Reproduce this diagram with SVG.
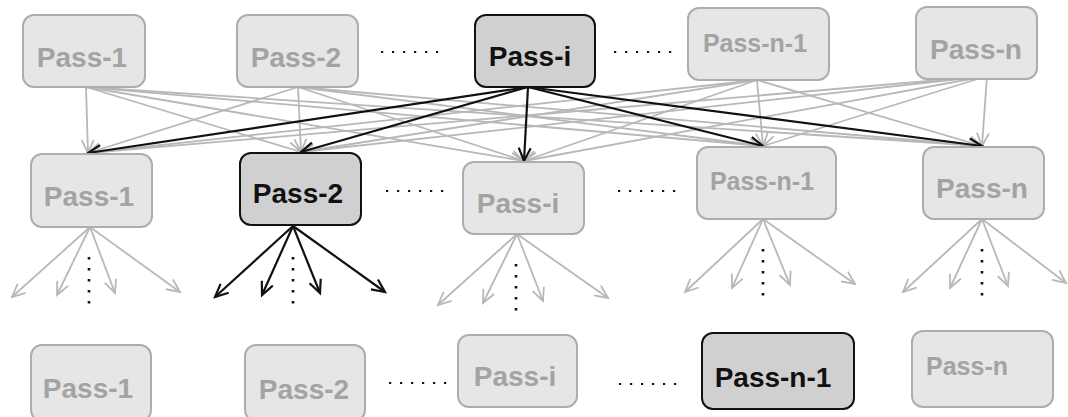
<svg xmlns="http://www.w3.org/2000/svg" width="1068" height="417" viewBox="0 0 1068 417">
  <style>
    .box-l { fill: #e6e6e6; stroke: #adadad; stroke-width: 2; }
    .box-d { fill: #d0d0d0; stroke: #111; stroke-width: 2; }
    .txt { font-family: "Liberation Sans", Arial, sans-serif; font-weight: bold; font-size: 28px; text-anchor: middle; }
    .txt-l { fill: #a3a3a3; }
    .txt-d { fill: #111; }
    .edge-g { stroke: #b8b8b8; stroke-width: 1.8; fill: none; marker-end: url(#arrow-g); }
    .edge-b { stroke: #111; stroke-width: 2.2; fill: none; marker-end: url(#arrow-b); }
    .hdots { stroke: #111; stroke-width: 2.2; stroke-dasharray: 2.2 8.8; fill: none; }
    .vdots { stroke: #111; stroke-width: 2.6; stroke-dasharray: 2.6 8.4; fill: none; }
  </style>
  <defs>
    <marker id="arrow-g" markerUnits="userSpaceOnUse" markerWidth="16" markerHeight="14" refX="13" refY="6" orient="auto" overflow="visible">
      <path d="M0,0 L13,6 L0,12" fill="none" stroke="#b8b8b8" stroke-width="1.8"/>
    </marker>
    <marker id="arrow-b" markerUnits="userSpaceOnUse" markerWidth="16" markerHeight="14" refX="13" refY="6" orient="auto" overflow="visible">
      <path d="M0,0 L13,6 L0,12" fill="none" stroke="#111" stroke-width="2.2"/>
    </marker>
  </defs>

  <g id="connectors">
    <!-- top row to middle row: faded links -->
    <g id="links-gray">
      <line class="edge-g" x1="86" y1="87" x2="88" y2="153"/>
      <line class="edge-g" x1="86" y1="87" x2="301" y2="152"/>
      <line class="edge-g" x1="86" y1="87" x2="524" y2="161"/>
      <line class="edge-g" x1="86" y1="87" x2="763" y2="146"/>
      <line class="edge-g" x1="86" y1="87" x2="982" y2="146"/>

      <line class="edge-g" x1="298" y1="87" x2="88" y2="153"/>
      <line class="edge-g" x1="298" y1="87" x2="301" y2="152"/>
      <line class="edge-g" x1="298" y1="87" x2="524" y2="161"/>
      <line class="edge-g" x1="298" y1="87" x2="763" y2="146"/>
      <line class="edge-g" x1="298" y1="87" x2="982" y2="146"/>

      <line class="edge-g" x1="757" y1="80" x2="88" y2="153"/>
      <line class="edge-g" x1="757" y1="80" x2="301" y2="152"/>
      <line class="edge-g" x1="757" y1="80" x2="524" y2="161"/>
      <line class="edge-g" x1="757" y1="80" x2="763" y2="146"/>
      <line class="edge-g" x1="757" y1="80" x2="982" y2="146"/>

      <line class="edge-g" x1="987" y1="76" x2="88" y2="153"/>
      <line class="edge-g" x1="987" y1="76" x2="301" y2="152"/>
      <line class="edge-g" x1="987" y1="76" x2="524" y2="161"/>
      <line class="edge-g" x1="987" y1="76" x2="763" y2="146"/>
      <line class="edge-g" x1="987" y1="76" x2="982" y2="146"/>
    </g>

    <!-- middle row fan-outs (faded) -->
    <g id="fans-gray">
      <line class="edge-g" x1="90" y1="227" x2="12" y2="297"/>
      <line class="edge-g" x1="90" y1="227" x2="57" y2="295"/>
      <line class="edge-g" x1="90" y1="227" x2="115" y2="293"/>
      <line class="edge-g" x1="90" y1="227" x2="180" y2="292"/>

      <line class="edge-g" x1="517" y1="234" x2="438" y2="305"/>
      <line class="edge-g" x1="517" y1="234" x2="483" y2="303"/>
      <line class="edge-g" x1="517" y1="234" x2="543" y2="301"/>
      <line class="edge-g" x1="517" y1="234" x2="608" y2="298"/>

      <line class="edge-g" x1="763" y1="219" x2="685" y2="292"/>
      <line class="edge-g" x1="763" y1="219" x2="732" y2="288"/>
      <line class="edge-g" x1="763" y1="219" x2="790" y2="285"/>
      <line class="edge-g" x1="763" y1="219" x2="855" y2="284"/>

      <line class="edge-g" x1="982" y1="219" x2="903" y2="292"/>
      <line class="edge-g" x1="982" y1="219" x2="950" y2="288"/>
      <line class="edge-g" x1="982" y1="219" x2="1008" y2="286"/>
      <line class="edge-g" x1="982" y1="219" x2="1066" y2="283"/>
    </g>

    <!-- active path: Pass-i to every middle node, Pass-2 fan-out -->
    <g id="links-active">
      <line class="edge-b" x1="528" y1="87" x2="88" y2="153"/>
      <line class="edge-b" x1="528" y1="87" x2="301" y2="152"/>
      <line class="edge-b" x1="528" y1="87" x2="524" y2="161"/>
      <line class="edge-b" x1="528" y1="87" x2="763" y2="146"/>
      <line class="edge-b" x1="528" y1="87" x2="982" y2="146"/>

      <line class="edge-b" x1="293" y1="226" x2="215" y2="297"/>
      <line class="edge-b" x1="293" y1="226" x2="262" y2="295"/>
      <line class="edge-b" x1="293" y1="226" x2="320" y2="293"/>
      <line class="edge-b" x1="293" y1="226" x2="385" y2="292"/>
    </g>

    <!-- ellipsis markers -->
    <g id="ellipses">
      <line class="vdots" x1="89" y1="257" x2="89" y2="305"/>
      <line class="vdots" x1="293" y1="257" x2="293" y2="305"/>
      <line class="vdots" x1="516" y1="264" x2="516" y2="312"/>
      <line class="vdots" x1="763" y1="249" x2="763" y2="297"/>
      <line class="vdots" x1="982" y1="249" x2="982" y2="297"/>

      <line class="hdots" x1="381" y1="52" x2="439" y2="52"/>
      <line class="hdots" x1="614" y1="52" x2="672" y2="52"/>
      <line class="hdots" x1="386" y1="191" x2="444" y2="191"/>
      <line class="hdots" x1="618" y1="191" x2="676" y2="191"/>
      <line class="hdots" x1="389" y1="383" x2="447" y2="383"/>
      <line class="hdots" x1="619" y1="384" x2="677" y2="384"/>
    </g>
  </g>

  <!-- top row -->
  <g id="top-pass-1"><rect class="box-l" x="23" y="15" width="122" height="72" rx="11"/><text class="txt txt-l" x="82" y="67">Pass-1</text></g>
  <g id="top-pass-2"><rect class="box-l" x="237" y="15" width="121" height="72" rx="11"/><text class="txt txt-l" x="296" y="67">Pass-2</text></g>
  <g id="top-pass-i"><rect class="box-d" x="475" y="15" width="120" height="72" rx="11"/><text class="txt txt-d" x="530" y="66">Pass-i</text></g>
  <g id="top-pass-n-1"><rect class="box-l" x="688" y="8" width="141" height="72" rx="11"/><text class="txt txt-l" x="755" y="52" style="font-size:25px">Pass-n-1</text></g>
  <g id="top-pass-n"><rect class="box-l" x="916" y="7" width="121" height="72" rx="11"/><text class="txt txt-l" x="976" y="59">Pass-n</text></g>

  <!-- middle row -->
  <g id="mid-pass-1"><rect class="box-l" x="31" y="154" width="121" height="73" rx="11"/><text class="txt txt-l" x="89" y="206">Pass-1</text></g>
  <g id="mid-pass-2"><rect class="box-d" x="240" y="153" width="121" height="72" rx="11"/><text class="txt txt-d" x="298" y="203">Pass-2</text></g>
  <g id="mid-pass-i"><rect class="box-l" x="463" y="162" width="121" height="72" rx="11"/><text class="txt txt-l" x="518" y="213">Pass-i</text></g>
  <g id="mid-pass-n-1"><rect class="box-l" x="697" y="147" width="139" height="72" rx="11"/><text class="txt txt-l" x="762" y="190" style="font-size:25px">Pass-n-1</text></g>
  <g id="mid-pass-n"><rect class="box-l" x="923" y="147" width="121" height="72" rx="11"/><text class="txt txt-l" x="982" y="198">Pass-n</text></g>

  <!-- bottom row -->
  <g id="bot-pass-1"><rect class="box-l" x="31" y="345" width="120" height="76" rx="11"/><text class="txt txt-l" x="88" y="398">Pass-1</text></g>
  <g id="bot-pass-2"><rect class="box-l" x="245" y="345" width="120" height="76" rx="11"/><text class="txt txt-l" x="304" y="399">Pass-2</text></g>
  <g id="bot-pass-i"><rect class="box-l" x="458" y="335" width="119" height="72" rx="11"/><text class="txt txt-l" x="515" y="386">Pass-i</text></g>
  <g id="bot-pass-n-1"><rect class="box-d" x="702" y="333" width="152" height="76" rx="11"/><text class="txt txt-d" x="773" y="387">Pass-n-1</text></g>
  <g id="bot-pass-n"><rect class="box-l" x="912" y="331" width="141" height="76" rx="11"/><text class="txt txt-l" x="967" y="375" style="font-size:25px">Pass-n</text></g>
</svg>
